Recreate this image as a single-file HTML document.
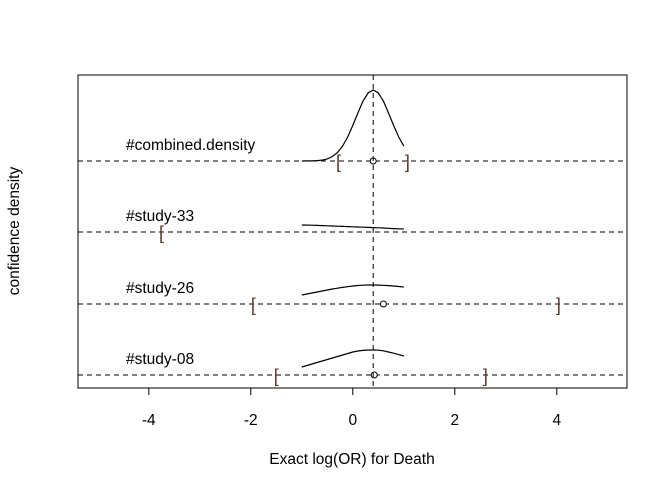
<!DOCTYPE html>
<html><head><meta charset="utf-8"><style>
body{margin:0;background:#fff}
svg text{font-family:"Liberation Sans",Arial,sans-serif;fill:#000}
</style></head><body>
<svg id="chart" width="667" height="485" xmlns="http://www.w3.org/2000/svg"></svg>
<script>
const categories = ["#combined.density","#study-33","#study-26","#study-08"];
const gridX = [-1,-0.9,-0.8,-0.7,-0.6,-0.5,-0.4,-0.3,-0.2,-0.1,0,0.1,0.2,0.3,0.4,0.5,0.6,0.7,0.8,0.9,1.0];
const densCombined = [0,0.05,0.14,0.38,0.94,2.1,4.5,8.5,14.9,24,35.6,48,60,68,71,68,60,48,35.6,24,14.9];
const dens33 = [7,6.9,6.8,6.6,6.4,6.2,6,5.8,5.6,5.4,5.2,5,4.8,4.6,4.4,4.2,4,3.7,3.4,3.2,3];
const dens26 = [9,10,11,12,13,14,15,15.8,16.6,17.3,18,18.5,18.8,19,19,18.9,18.7,18.4,18,17.5,17];
const dens08 = [8,9.5,11,12.5,14,15.5,17,18.5,20,21.5,23,24,24.6,25,25,24.8,24.2,23,21.8,20.4,19];
const ciLow = [-0.28,-3.75,-1.95,-1.5];
const ciHigh = [1.07,null,4.03,2.6];
const pointEst = [0.4,null,0.6,0.42];
const refLine = 0.4;
const xTicks = [-4,-2,0,2,4];
const xTickLabels = ["-4","-2","0","2","4"];

const svg = document.getElementById('chart');
const NS = 'http://www.w3.org/2000/svg';
const L=78,R=627,T=75,B=388, x0=352.8, ppu=51;
const baselines=[161,232,304,375];
const xs = v => x0 + v*ppu;
function mk(tag, attrs, parent){const e=document.createElementNS(NS,tag);for(const k in attrs)e.setAttribute(k,attrs[k]);(parent||svg).appendChild(e);return e;}

const box = mk('rect',{x:L,y:T,width:R-L,height:B-T,fill:'none',stroke:'#000','stroke-width':1});



const dens=[densCombined,dens33,dens26,dens08];
categories.forEach((c,i)=>{
  const yb=baselines[i];
  const g=mk('g',{});
  
  
  const hl=mk('line',{x1:L,x2:R,y1:yb,y2:yb,stroke:'#000','stroke-dasharray':'5,4'},g);
  
  
  const lab=mk('text',{x:126,y:yb-11,'font-size':15.5},g);
  lab.textContent=c;
  
  
  const pts=gridX.map((x,j)=>xs(x).toFixed(1)+','+(yb-dens[i][j]).toFixed(1)).join(' ');
  const pl=mk('polyline',{points:pts,fill:'none',stroke:'#000','stroke-width':1.2},g);
  
  
  if(ciLow[i]!==null){const t=mk('text',{x:xs(ciLow[i]),y:yb+7,'font-size':18,'text-anchor':'middle',style:'fill:#5a3a2a'},g);t.textContent='[';
    
    }
  if(ciHigh[i]!==null){const t=mk('text',{x:xs(ciHigh[i]),y:yb+7,'font-size':18,'text-anchor':'middle',style:'fill:#5a3a2a'},g);t.textContent=']';
    
    }
  if(pointEst[i]!==null){const cc=mk('circle',{cx:xs(pointEst[i]),cy:yb,r:3,fill:'#fff',stroke:'#000'},g);
    
    }
});
const vl=mk('line',{x1:xs(refLine),x2:xs(refLine),y1:T,y2:B,stroke:'#000','stroke-dasharray':'5,4'});



xTicks.forEach((v,i)=>{
  const tk=mk('line',{x1:xs(v),x2:xs(v),y1:B,y2:B+7,stroke:'#000'});
  
  
  const t=mk('text',{x:xs(v),y:425,'font-size':15.5,'text-anchor':'middle'});
  t.textContent=xTickLabels[i];
  
  
});
const xt=mk('text',{x:352,y:464,'font-size':15.5,'text-anchor':'middle'});
xt.textContent='Exact log(OR) for Death';


const yt=mk('text',{x:0,y:0,'font-size':15.5,'text-anchor':'middle',transform:'translate(19,231) rotate(-90)'});
yt.textContent='confidence density';


</script>
</body></html>
